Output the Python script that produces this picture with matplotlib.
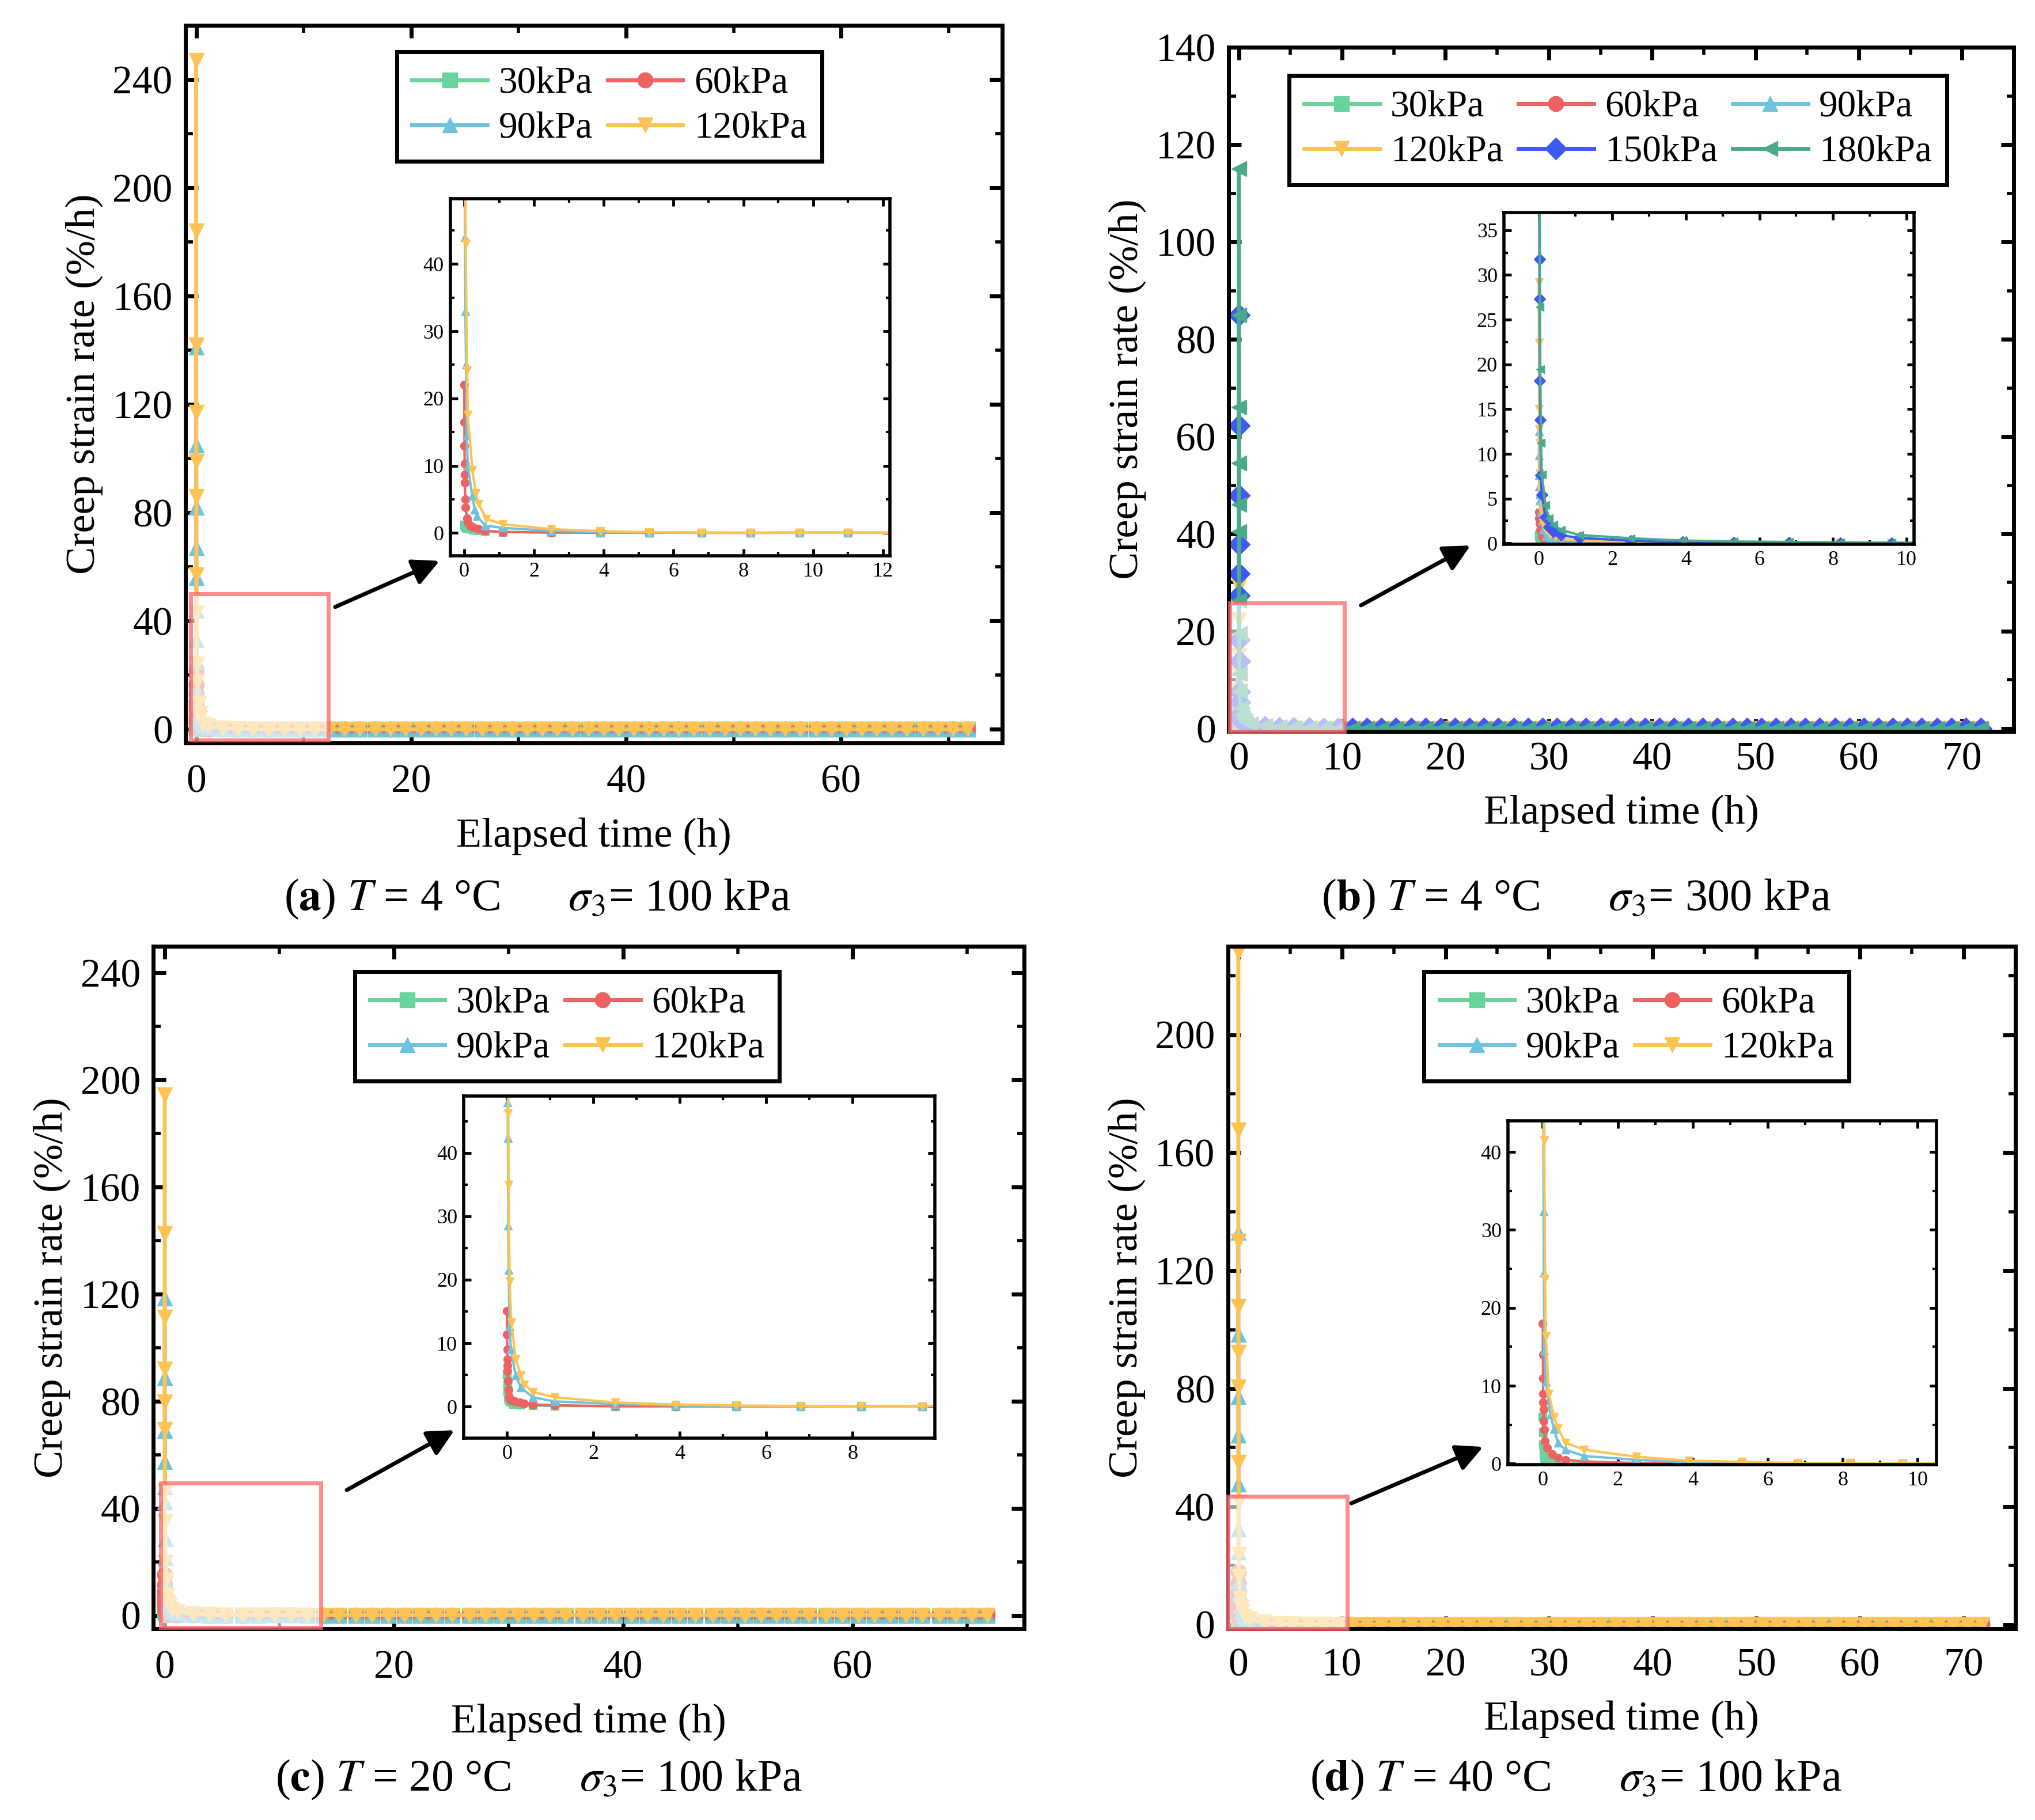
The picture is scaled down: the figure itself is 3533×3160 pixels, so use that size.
import matplotlib
matplotlib.use("Agg")
import matplotlib.pyplot as plt
from matplotlib.patches import Rectangle
from matplotlib.ticker import MultipleLocator

plt.rcParams["font.family"] = ["Liberation Serif", "DejaVu Serif"]
plt.rcParams["mathtext.fontset"] = "stix"

# ---------------- data ----------------
# common sampling after the first hour (h)
TIME_MID = [1.1, 2.5, 3.9, 5.3, 6.8, 8.2]
TIME_LATE = [9.6, 11.0, 12.4, 13.8, 15.2, 16.7, 18.1, 19.5, 20.9, 22.3, 23.7,
             25.1, 26.6, 28.0, 29.4, 30.8, 32.2, 33.6, 35.0, 36.5, 37.9, 39.3,
             40.7, 42.1, 43.5, 44.9, 46.3, 47.8, 49.2, 50.6, 52.0, 53.4, 54.8,
             56.2, 57.7, 59.1, 60.5, 61.9, 63.3, 64.7, 66.1, 67.6, 69.0, 70.4,
             71.8]
RATE_LATE = [0.04, 0.04, 0.03, 0.03, 0.03, 0.03, 0.03, 0.03, 0.02, 0.02, 0.02,
             0.02, 0.02, 0.02, 0.02, 0.02, 0.02, 0.02, 0.02, 0.02, 0.02, 0.02,
             0.02, 0.01, 0.01, 0.01, 0.01, 0.01, 0.01, 0.01, 0.01, 0.01, 0.01,
             0.01, 0.01, 0.01, 0.01, 0.01, 0.01, 0.01, 0.01, 0.01, 0.01, 0.01,
             0.01]

# (a) T = 4 C, sigma3 = 100 kPa
a30_t = [0.0, 0.01, 0.02, 0.04, 0.08, 0.15, 0.25, 0.4, 0.6]
a30_y = [1.2, 1.0, 0.9, 0.8, 0.7, 0.6, 0.5, 0.4, 0.3]
a30_mid = [0.15, 0.08, 0.05, 0.04, 0.03, 0.03]
a60_t = [0.0, 0.003, 0.006, 0.01, 0.013, 0.017, 0.025, 0.033, 0.08, 0.1, 0.18, 0.27, 0.4, 0.6]
a60_y = [22.0, 16.5, 13.0, 10.3, 8.7, 7.5, 5.0, 3.8, 2.2, 1.6, 1.1, 0.8, 0.6, 0.3]
a60_mid = [0.15, 0.06, 0.04, 0.03, 0.03, 0.02]
a90_t = [0.0, 0.004, 0.008, 0.012, 0.016, 0.02, 0.03, 0.05, 0.07, 0.1, 0.23, 0.3, 0.37, 0.6]
a90_y = [141.0, 105.0, 82.0, 67.0, 56.0, 44.0, 33.0, 25.0, 14.5, 10.0, 5.5, 3.5, 2.5, 1.1]
a90_mid = [0.76, 0.3, 0.1, 0.06, 0.04, 0.03]
a120_t = [0.0, 0.004, 0.008, 0.012, 0.016, 0.02, 0.03, 0.04, 0.08, 0.1, 0.23, 0.33, 0.41, 0.63]
a120_y = [247.0, 184.0, 142.0, 117.0, 99.0, 86.0, 57.0, 43.0, 24.2, 17.6, 9.4, 5.9, 4.3, 2.1]
a120_mid = [1.3, 0.57, 0.27, 0.12, 0.06, 0.04]

# (b) T = 4 C, sigma3 = 300 kPa
b30_t = [0.0, 0.01, 0.02, 0.04, 0.08, 0.15, 0.3, 0.6]
b30_y = [1.0, 0.8, 0.6, 0.45, 0.3, 0.2, 0.12, 0.08]
b30_mid = [0.05, 0.03, 0.02, 0.02, 0.01, 0.01]
b60_t = [0.0, 0.01, 0.02, 0.04, 0.08, 0.15, 0.3, 0.6]
b60_y = [3.5, 2.8, 2.2, 1.5, 0.8, 0.5, 0.3, 0.15]
b60_mid = [0.08, 0.04, 0.03, 0.02, 0.02, 0.01]
b90_t = [0.0, 0.005, 0.01, 0.015, 0.02, 0.03, 0.05, 0.08, 0.12, 0.2, 0.3, 0.45, 0.6]
b90_y = [12.5, 9.8, 7.6, 6.3, 5.5, 4.8, 3.5, 2.5, 1.5, 0.8, 0.45, 0.3, 0.2]
b90_mid = [0.12, 0.06, 0.04, 0.03, 0.02, 0.02]
b120_t = [0.0, 0.005, 0.01, 0.015, 0.02, 0.03, 0.05, 0.08, 0.12, 0.2, 0.3, 0.45, 0.6]
b120_y = [29.2, 22.4, 15.0, 12.8, 11.2, 7.8, 6.0, 3.5, 2.3, 1.5, 1.0, 0.7, 0.5]
b120_mid = [0.3, 0.15, 0.08, 0.05, 0.04, 0.03]
b150_t = [0.0, 0.004, 0.008, 0.012, 0.016, 0.02, 0.03, 0.04, 0.06, 0.08, 0.18, 0.28, 0.4, 0.6]
b150_y = [85.0, 62.2, 47.9, 37.9, 31.8, 27.3, 18.2, 13.8, 7.6, 5.4, 2.9, 1.8, 1.3, 0.9]
b150_mid = [0.6, 0.3, 0.15, 0.1, 0.07, 0.05]
b180_t = [0.0, 0.004, 0.008, 0.012, 0.016, 0.02, 0.03, 0.04, 0.06, 0.08, 0.18, 0.28, 0.4, 0.6]
b180_y = [115.0, 85.0, 66.0, 54.5, 46.0, 40.5, 26.4, 19.5, 11.2, 7.7, 4.3, 2.8, 2.1, 1.5]
b180_mid = [0.93, 0.56, 0.31, 0.2, 0.15, 0.1]

# (c) T = 20 C, sigma3 = 100 kPa
c30_t = [0.0, 0.005, 0.01, 0.02, 0.04, 0.08, 0.15, 0.3, 0.6]
c30_y = [5.0, 3.5, 2.5, 1.5, 1.0, 0.7, 0.4, 0.25, 0.15]
c30_mid = [0.08, 0.04, 0.03, 0.02, 0.02, 0.01]
c60_t = [0.0, 0.003, 0.006, 0.01, 0.013, 0.017, 0.025, 0.033, 0.05, 0.08, 0.18, 0.3, 0.4, 0.6]
c60_y = [15.1, 11.4, 9.0, 7.5, 6.5, 5.6, 4.1, 2.6, 1.5, 1.0, 0.8, 0.6, 0.45, 0.3]
c60_mid = [0.2, 0.05, 0.03, 0.02, 0.02, 0.01]
c90_t = [0.0, 0.004, 0.008, 0.012, 0.016, 0.02, 0.03, 0.04, 0.06, 0.09, 0.2, 0.32, 0.6]
c90_y = [118.6, 88.9, 69.0, 57.3, 48.0, 42.4, 28.5, 21.5, 12.6, 9.0, 4.9, 3.0, 1.45]
c90_mid = [0.8, 0.4, 0.15, 0.08, 0.05, 0.03]
c120_t = [0.0, 0.004, 0.008, 0.012, 0.016, 0.02, 0.03, 0.04, 0.06, 0.1, 0.2, 0.32, 0.4, 0.6]
c120_y = [194.4, 142.7, 111.3, 92.1, 79.7, 69.4, 46.3, 35.0, 19.7, 13.3, 7.5, 4.9, 3.5, 2.3]
c120_mid = [1.45, 0.64, 0.3, 0.15, 0.08, 0.05]

# (d) T = 40 C, sigma3 = 100 kPa
d30_t = [0.0, 0.005, 0.01, 0.02, 0.04, 0.08, 0.15, 0.3, 0.6]
d30_y = [6.0, 4.0, 2.5, 1.5, 0.8, 0.4, 0.25, 0.15, 0.1]
d30_mid = [0.05, 0.03, 0.02, 0.02, 0.01, 0.01]
d60_t = [0.0, 0.003, 0.006, 0.01, 0.013, 0.017, 0.025, 0.033, 0.06, 0.12, 0.25, 0.4, 0.6]
d60_y = [18.0, 14.0, 11.0, 9.0, 7.9, 7.0, 5.5, 4.4, 2.9, 2.0, 1.2, 0.8, 0.5]
d60_mid = [0.3, 0.1, 0.05, 0.03, 0.02, 0.02]
d90_t = [0.0, 0.004, 0.008, 0.012, 0.016, 0.02, 0.03, 0.04, 0.08, 0.2, 0.3, 0.4, 0.6]
d90_y = [133.0, 98.3, 77.3, 64.1, 47.6, 32.4, 24.5, 14.5, 10.5, 6.3, 4.5, 2.7, 1.8]
d90_mid = [1.0, 0.5, 0.2, 0.1, 0.06, 0.04]
d120_t = [0.0, 0.004, 0.008, 0.012, 0.016, 0.02, 0.03, 0.04, 0.06, 0.08, 0.16, 0.3, 0.4, 0.6]
d120_y = [228.0, 167.6, 130.0, 108.0, 92.4, 80.6, 55.0, 41.5, 23.7, 16.4, 9.0, 6.0, 4.6, 2.7]
d120_mid = [1.8, 0.9, 0.4, 0.25, 0.1, 0.08]

LABELS = ["30kPa", "60kPa", "90kPa", "120kPa", "150kPa", "180kPa"]
COLORS = ["#68D39A", "#EE6262", "#6EC3DF", "#FFC353", "#3F5AF4", "#4BAA8B"]
MARKERS = ["s", "o", "^", "v", "D", "<"]


def full(t, y, mid):
    return t + TIME_MID + TIME_LATE, y + mid + RATE_LATE


panels = [
    dict(series=[full(a30_t, a30_y, a30_mid), full(a60_t, a60_y, a60_mid),
                 full(a90_t, a90_y, a90_mid), full(a120_t, a120_y, a120_mid)],
         ax=[0.0911, 0.5918, 0.4014, 0.3943], xlim=(-1, 75), ylim=(-5, 260),
         xmaj=20, ymaj=40, yticks_max=240, xpad=27,
         inset=[0.2213, 0.6946, 0.2160, 0.1962], ixlim=(-0.4, 12.2), iylim=(-3.4, 49.7),
         ixmaj=2, iymaj=10, ixmax=12,
         rect=(-0.5, -4.0, 12.8, 54.0), arrow=((0.1647, 0.6665), (0.2160, 0.6918)),
         leg=(0.519, 0.963), ncol=2,
         cap=(0.264, 0.506), cap_text=r"($\mathbf{a}$) $T$ = 4 °C      $\sigma_3$= 100 kPa"),
    dict(series=[full(b30_t, b30_y, b30_mid), full(b60_t, b60_y, b60_mid),
                 full(b90_t, b90_y, b90_mid), full(b120_t, b120_y, b120_mid),
                 full(b150_t, b150_y, b150_mid), full(b180_t, b180_y, b180_mid)],
         ax=[0.6037, 0.5981, 0.3858, 0.3759], xlim=(-1, 75), ylim=(-0.6, 140),
         xmaj=10, ymaj=20, yticks_max=140, xpad=13,
         inset=[0.7390, 0.7010, 0.2015, 0.1823], ixlim=(-0.95, 10.2), iylim=(-0.1, 37),
         ixmaj=2, iymaj=5, ixmax=10,
         rect=(-0.9, -0.6, 11.1, 26.4), arrow=((0.6688, 0.6674), (0.7226, 0.7003)),
         leg=(0.496, 0.959), ncol=3,
         cap=(0.7744, 0.506), cap_text=r"($\mathbf{b}$) $T$ = 4 °C      $\sigma_3$= 300 kPa"),
    dict(series=[full(c30_t, c30_y, c30_mid), full(c60_t, c60_y, c60_mid),
                 full(c90_t, c90_y, c90_mid), full(c120_t, c120_y, c120_mid)],
         ax=[0.0753, 0.1051, 0.4280, 0.3750], xlim=(-1, 75), ylim=(-5, 250),
         xmaj=20, ymaj=40, yticks_max=240, xpad=27,
         inset=[0.2279, 0.2098, 0.2315, 0.1880], ixlim=(-1.0, 9.9), iylim=(-5, 49),
         ixmaj=2, iymaj=10, ixmax=8,
         rect=(-0.35, -4.7, 13.95, 54.1), arrow=((0.1704, 0.1813), (0.2233, 0.2142)),
         leg=(0.475, 0.963), ncol=2,
         cap=(0.2647, 0.0222), cap_text=r"($\mathbf{c}$) $T$ = 20 °C      $\sigma_3$= 100 kPa"),
    dict(series=[full(d30_t, d30_y, d30_mid), full(d60_t, d60_y, d60_mid),
                 full(d90_t, d90_y, d90_mid), full(d120_t, d120_y, d120_mid)],
         ax=[0.6034, 0.1051, 0.3869, 0.3750], xlim=(-1, 75), ylim=(-1.4, 230),
         xmaj=10, ymaj=40, yticks_max=200, xpad=24,
         inset=[0.7410, 0.1953, 0.2106, 0.1889], ixlim=(-0.93, 10.5), iylim=(-0.1, 44),
         ixmaj=2, iymaj=10, ixmax=10,
         rect=(-1.0, -1.4, 11.5, 44.9), arrow=((0.6640, 0.1740), (0.7288, 0.2050)),
         leg=(0.519, 0.963), ncol=2,
         cap=(0.7744, 0.0222), cap_text=r"($\mathbf{d}$) $T$ = 40 °C      $\sigma_3$= 100 kPa"),
]

fig = plt.figure(figsize=(35.33, 31.6), dpi=100)


def style_axes(ax, xmaj, ymaj, big, xpad=16):
    ax.xaxis.set_major_locator(MultipleLocator(xmaj))
    ax.xaxis.set_minor_locator(MultipleLocator(xmaj / 2))
    ax.yaxis.set_major_locator(MultipleLocator(ymaj))
    ax.yaxis.set_minor_locator(MultipleLocator(ymaj / 2))
    if big:
        ax.tick_params(which="major", direction="in", length=16, width=5,
                       top=True, right=True, labelsize=50, pad=16)
        ax.tick_params(axis="x", which="major", pad=xpad)
        ax.tick_params(which="minor", direction="in", length=9, width=4,
                       top=True, right=True)
        for s in ax.spines.values():
            s.set_linewidth(5)
    else:
        ax.tick_params(which="major", direction="in", length=9, width=3.5,
                       top=True, right=True, labelsize=26, pad=8)
        ax.tick_params(which="minor", direction="in", length=5, width=3,
                       top=True, right=True)
        for s in ax.spines.values():
            s.set_linewidth(4)


for p in panels:
    ax = fig.add_axes(p["ax"])
    handles = []
    for i, (t, y) in enumerate(p["series"]):
        h, = ax.plot(t, y, color=COLORS[i], marker=MARKERS[i], markersize=19,
                     lw=5, mec=COLORS[i], label=LABELS[i], zorder=2)
        handles.append(h)
    ax.set_xlim(*p["xlim"])
    ax.set_ylim(*p["ylim"])
    style_axes(ax, p["xmaj"], p["ymaj"], True, p["xpad"])
    ax.set_yticks([v for v in range(0, p["yticks_max"] + 1, p["ymaj"])])
    ax.set_xlabel("Elapsed time (h)", fontsize=52, labelpad=20)
    ax.set_ylabel("Creep strain rate (%/h)", fontsize=52, labelpad=12)

    x0, y0, w, h = p["rect"]
    ax.add_patch(Rectangle((x0, y0), w, h, facecolor=(1, 1, 1, 0.62),
                           edgecolor=(1.0, 0.4, 0.4, 0.75), lw=5, zorder=6,
                           clip_on=False))

    # legend reads row by row, matplotlib fills column by column
    ncol = p["ncol"]
    nrow = len(handles) // ncol
    order = [r * ncol + c for c in range(ncol) for r in range(nrow)]
    leg = ax.legend(handles=[handles[k] for k in order], ncol=ncol,
                    loc="upper center", bbox_to_anchor=p["leg"], fontsize=47,
                    frameon=True, fancybox=False, edgecolor="black",
                    handlelength=2.0, handletextpad=0.3, columnspacing=0.4,
                    labelspacing=0.28, borderpad=0.4, borderaxespad=0,
                    framealpha=1)
    leg.get_frame().set_linewidth(5)

    ins = fig.add_axes(p["inset"])
    for i, (t, y) in enumerate(p["series"]):
        ins.plot(t, y, color=COLORS[i], marker=MARKERS[i], markersize=10,
                 lw=3, mec=COLORS[i])
    ins.set_xlim(*p["ixlim"])
    ins.set_ylim(*p["iylim"])
    style_axes(ins, p["ixmaj"], p["iymaj"], False)
    ins.set_xticks(list(range(0, p["ixmax"] + 1, p["ixmaj"])))
    ins.set_xticks([v + 1 for v in range(0, p["ixmax"], p["ixmaj"])], minor=True)

    ax.annotate("", xy=p["arrow"][1], xytext=p["arrow"][0],
                xycoords="figure fraction", textcoords="figure fraction",
                arrowprops=dict(arrowstyle="-|>", lw=5, color="black",
                                mutation_scale=70, shrinkA=0, shrinkB=0))

    fig.text(p["cap"][0], p["cap"][1], p["cap_text"], fontsize=56,
             ha="center", va="center")

fig.savefig("out.png", dpi=100)
